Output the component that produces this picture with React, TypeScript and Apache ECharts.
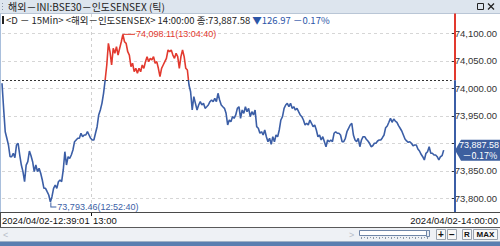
import React, { useEffect, useRef } from "react";
import * as echarts from "echarts";

// Tick prices, 12:39:01 → 14:00:00 (equal spacing per tick)
const PRICES_A: number[] = [
  74009.1, 73963.6, 73921.1, 73909.1, 73896.9, 73875.6, 73875.6, 73881.8, 73873.8, 73896.9,
  73900.0, 73878.7, 73860.5, 73848.4, 73830.2, 73860.5, 73866.5, 73886.0, 73877.5, 73866.5,
  73848.4, 73860.5, 73848.4, 73854.5, 73845.5, 73833.3, 73818.2, 73818.2, 73812.0, 73806.0,
  73793.46, 73802.9, 73818.2, 73824.2, 73818.2, 73830.2, 73833.3, 73830.2, 73851.5, 73884.7,
  73860.5, 73875.6, 73872.7, 73878.7, 73887.8, 73902.9, 73906.0, 73909.1, 73909.1, 73918.2,
  73912.0, 73915.1, 73915.1, 73921.1, 73915.1, 73909.1, 73906.0, 73906.0, 73918.2, 73930.2,
  73951.5, 73960.5, 73972.7, 73990.9, 74015.1, 74042.4, 74081.8, 74066.5, 74042.4, 74072.7,
  74063.6, 74075.6, 74060.5, 74072.7, 74084.7, 74098.11, 74084.7, 74081.8, 74066.5, 74060.5,
  74039.3, 74045.5, 74030.2, 74036.4, 74027.3, 74036.4, 74030.2, 74042.4, 74036.4, 74048.4,
];
const PRICES_B: number[] = [
  74057.5, 74048.4, 74054.5, 74051.5, 74057.5, 74045.5, 74048.4, 74036.4, 74021.1, 74036.4,
  74042.4, 74048.4, 74054.5, 74069.6, 74066.5, 74069.6, 74060.5, 74054.5, 74063.6, 74057.5,
  74036.4, 74057.5, 74069.6, 74057.5, 74036.4, 74033.3, 74006.0, 73993.8, 73960.5, 73984.7,
  73972.7, 73960.5, 73969.6, 73975.6, 73969.6, 73972.7, 73963.6, 73966.5, 73969.6, 73975.6,
  73978.7, 73975.6, 73981.8, 73975.6, 73990.9, 73978.7, 73969.6, 73966.5, 73963.6, 73954.5,
  73933.3, 73942.4, 73939.3, 73948.4, 73945.5, 73951.5, 73963.6, 73966.5, 73945.5, 73960.5,
  73954.5, 73966.5, 73957.5, 73963.6, 73948.4, 73957.5, 73951.5, 73960.5, 73930.2, 73927.3,
  73918.2, 73921.1, 73915.1, 73924.2, 73912.0, 73902.9, 73909.1, 73898.2, 73912.0, 73902.9,
  73915.1, 73912.0, 73924.2, 73942.4, 73948.4, 73963.6, 73969.6, 73972.7, 73966.5, 73972.7,
];
const PRICES_C: number[] = [
  73963.6, 73966.5, 73960.5, 73963.6, 73957.5, 73951.5, 73948.4, 73942.4, 73933.3, 73936.4,
  73933.3, 73942.4, 73936.4, 73930.2, 73933.3, 73924.2, 73912.0, 73915.1, 73906.0, 73912.0,
  73902.9, 73893.8, 73906.0, 73902.9, 73906.0, 73902.9, 73918.2, 73921.1, 73918.2, 73918.2,
  73915.1, 73902.9, 73902.9, 73909.1, 73921.1, 73927.3, 73933.3, 73936.4, 73915.1, 73906.0,
  73902.9, 73909.1, 73893.8, 73906.0, 73912.0, 73912.0, 73907.3, 73904.2, 73900.0, 73893.8,
  73895.6, 73900.0, 73900.0, 73904.2, 73906.0, 73906.0, 73910.2, 73915.1, 73928.4, 73931.5,
  73938.2, 73945.5, 73938.2, 73944.2, 73940.5, 73938.2, 73932.0, 73927.3, 73922.4, 73915.1,
  73907.8, 73904.2, 73901.8, 73902.9, 73900.0, 73895.6, 73896.9, 73896.9, 73889.6, 73886.0,
  73880.0, 73875.6, 73869.6, 73881.8, 73884.7, 73893.8, 73881.8, 73881.8, 73878.7, 73878.7,
  73875.6, 73869.6, 73875.6, 73877.5, 73887.58,
];
const PRICES: number[] = [...PRICES_A, ...PRICES_B, ...PRICES_C];

const LAST = 73887.58;
const CHANGE = -126.97;
const CHANGE_PCT = -0.17;
const PREV_CLOSE = LAST - CHANGE; // 74014.55

const Y_MIN = 73750;
const Y_MAX = 74150;
const Y_INTERVAL = 50;

const MAX_TIME = "13:04:40";
const MIN_TIME = "12:52:40";
const START_LABEL = "2024/04/02-12:39:01";
const END_LABEL = "2024/04/02-14:00:00";
const HOUR_LABEL = "13:00";
const HOUR_INDEX = 55;
const PAD_SLOTS = 5;

const TITLE = "해외－INI:BSE30－인도SENSEX (틱)";
const LEGEND_MAIN = "<D － 15Min> <해외－인도SENSEX> 14:00:00 종:";

const RED = "#e2392e";
const BLUE = "#3b5ea6";
const CJK = '"Noto Sans CJK KR", "Noto Sans", sans-serif';
const LAT = '"Liberation Sans", Arial, sans-serif';

const fmt = (v: number) =>
  v.toLocaleString("en-US", { minimumFractionDigits: 2, maximumFractionDigits: 2 });

export default function App() {
  const ref = useRef<HTMLDivElement>(null);
  useEffect(() => {
    if (!ref.current) return;
    const chart = echarts.init(ref.current, undefined, { renderer: "svg" });
    const categories = Array.from({ length: PRICES.length + PAD_SLOTS }, (_, i) => String(i));
    chart.setOption({
      animation: false,
      backgroundColor: "#ffffff",
      grid: { left: 2, right: 45, top: 5.8, bottom: 20.2 },
      xAxis: {
        type: "category",
        data: categories,
        boundaryGap: false,
        axisLine: { show: false },
        axisTick: { show: false },
        axisLabel: { show: false },
        splitLine: { show: false },
      },
      yAxis: {
        type: "value",
        position: "right",
        min: Y_MIN,
        max: Y_MAX,
        interval: Y_INTERVAL,
        axisLine: { show: false },
        axisTick: { show: true, length: 3, lineStyle: { color: "#333" } },
        axisLabel: {
          margin: 3,
          color: "#333",
          fontFamily: LAT,
          fontSize: 9.5,
          showMinLabel: false,
          showMaxLabel: false,
          // the tick hidden under the current-price box is not labelled
          formatter: (v: number) => (Math.abs(v - LAST) < 20 ? "" : fmt(v)),
        },
        splitLine: { show: true, lineStyle: { color: "#d6d6d6", type: [3, 3], width: 1 } },
      },
      visualMap: {
        show: false,
        type: "piecewise",
        dimension: 1,
        seriesIndex: 0,
        pieces: [
          { gt: PREV_CLOSE, lte: Y_MAX, color: RED },
          { gte: Y_MIN, lte: PREV_CLOSE, color: BLUE },
        ],
      },
      series: [
        {
          type: "line",
          data: PRICES,
          showSymbol: false,
          symbol: "none",
          lineStyle: { width: 1.6 },
          z: 3,
          markLine: {
            silent: true,
            symbol: "none",
            label: { show: false },
            lineStyle: { color: "#333", type: [2, 2], width: 1 },
            data: [{ yAxis: PREV_CLOSE }],
          },
          markPoint: {
            silent: true,
            data: [
              {
                type: "max",
                symbol: "path://M0,0H12V1H0Z",
                symbolSize: [12, 1],
                symbolOffset: [6, 0],
                itemStyle: { color: RED },
                label: {
                  show: true,
                  position: "right",
                  distance: 1,
                  color: RED,
                  fontFamily: LAT,
                  fontSize: 9,
                  formatter: (p: any) => `${fmt(p.value)}(${MAX_TIME})`,
                },
              },
              {
                type: "min",
                symbol: "path://M0,0H1V4H6V5H0Z",
                symbolSize: [6, 5],
                symbolOffset: [3, 3],
                itemStyle: { color: BLUE },
                label: {
                  show: true,
                  position: "right",
                  distance: 1,
                  offset: [0, 2],
                  color: BLUE,
                  fontFamily: LAT,
                  fontSize: 9,
                  formatter: (p: any) => `${fmt(p.value)}(${MIN_TIME})`,
                },
              },
            ],
          },
        },
      ],
    });

    const refY = chart.convertToPixel({ yAxisIndex: 0 }, PREV_CLOSE) as number;
    const lastY = chart.convertToPixel({ yAxisIndex: 0 }, LAST) as number;
    const hourX = chart.convertToPixel({ xAxisIndex: 0 }, HOUR_INDEX) as number;
    const axisX = 455;

    const txt = (x: number, y: number, text: string, opts: any = {}) => ({
      type: "text",
      x,
      y,
      z: 110,
      silent: true,
      style: {
        text,
        fill: opts.fill || "#222",
        font: opts.font || `9.5px ${LAT}`,
        align: opts.align || "left",
        verticalAlign: "middle",
        textAlign: opts.align || "left",
        textVerticalAlign: "middle",
      },
    });
    const rect = (x: number, y: number, w: number, h: number, fill: string, stroke?: string, z = 100) => ({
      type: "rect",
      z,
      silent: true,
      shape: { x, y, width: w, height: h },
      style: { fill, stroke: stroke || null, lineWidth: stroke ? 1 : 0 },
    });
    const line = (x1: number, y1: number, x2: number, y2: number, stroke: string, w = 1, z = 105, dash?: number[]) => ({
      type: "line",
      z,
      silent: true,
      shape: { x1, y1, x2, y2 },
      style: { stroke, lineWidth: w, lineDash: dash || null },
    });

    const rulerTicks: any[] = [];
    for (let x = 361; x <= 429; x += 3) {
      rulerTicks.push(line(x + 0.5, 237, x + 0.5, x % 2 ? 239 : 238, "#8a97a8", 1, 106));
    }

    const hx = Math.round(hourX) + 0.5;

    chart.setOption({
      graphic: [
        // vertical grid line at 13:00
        line(hx, 14, hx, 212, "#d0d0d0", 1, 1, [3, 3]),
        // title bar
        rect(0, 0, 500, 13, "#dde5ee"),
        line(0, 13.5, 500, 13.5, "#b9c6d6"),
        rect(2, 3, 1, 1, "#8894a4", undefined, 106),
        rect(2, 6, 1, 1, "#8894a4", undefined, 106),
        rect(2, 9, 1, 1, "#8894a4", undefined, 106),
        txt(8, 6.5, TITLE, { font: `10px ${CJK}`, fill: "#1c1c1c" }),
        rect(477.5, 3.5, 6, 6, "none", "#222", 106),
        line(488, 3.5, 494, 9.5, "#222", 1.3),
        line(494, 3.5, 488, 9.5, "#222", 1.3),
        // left border
        line(0.5, 14, 0.5, 212, "#a9bfdc"),
        // legend
        rect(2, 16, 2, 8, "#222", undefined, 106),
        {
          type: "text",
          x: 6,
          y: 20,
          z: 110,
          silent: true,
          style: {
            text: `{a|${LEGEND_MAIN}${fmt(LAST)}} {b|▼${fmt(Math.abs(CHANGE))} －${Math.abs(CHANGE_PCT).toFixed(2)}%}`,
            font: `9.5px ${CJK}`,
            verticalAlign: "middle",
            textVerticalAlign: "middle",
            rich: {
              a: { fill: "#222", color: "#222", font: `9.5px ${CJK}` },
              b: { fill: "#2c56a8", color: "#2c56a8", font: `9.5px ${CJK}` },
            },
          },
        },
        // y axis line (red above previous close, blue below)
        line(axisX, 13.5, axisX, refY, RED, 2),
        line(axisX, refY, axisX, 212, BLUE, 2),
        // current price box
        {
          type: "polygon",
          z: 108,
          silent: true,
          shape: {
            points: [
              [axisX, lastY],
              [axisX + 6, lastY - 10.5],
              [500, lastY - 10.5],
              [500, lastY + 10.5],
              [axisX + 6, lastY + 10.5],
            ],
          },
          style: { fill: "#3d5f9f" },
        },
        txt(479, lastY - 5.5, fmt(LAST), { fill: "#ffffff", align: "center", font: `9px ${LAT}` }),
        txt(480, lastY + 5.5, `－${Math.abs(CHANGE_PCT).toFixed(2)}%`, {
          fill: "#ffffff",
          align: "center",
          font: `9px ${CJK}`,
        }),
        // bottom date strip
        rect(0, 212, 500, 15, "#ffffff"),
        line(0, 212.5, 500, 212.5, "#4a4a4a"),
        line(0, 227.5, 500, 227.5, "#5a5a5a"),
        line(0.5, 212, 0.5, 227, "#4a4a4a"),
        txt(2, 220, START_LABEL, { font: `9.5px ${LAT}`, fill: "#111" }),
        line(hx, 213, hx, 216, "#111"),
        txt(hx + 1.5, 220, HOUR_LABEL, { font: `9.5px ${LAT}`, fill: "#111" }),
        txt(498, 220, END_LABEL, { font: `9.5px ${LAT}`, fill: "#111", align: "right" }),
        // scroll strip
        rect(0, 228, 500, 14, "#eef1f5"),
        txt(3, 235, "<", { fill: "#b8bec8", font: `9px ${LAT}` }),
        txt(349, 235, ">", { fill: "#b8bec8", font: `9px ${LAT}` }),
        rect(359.5, 230.5, 70, 5, "#ffffff", "#6f86a8", 105),
        rect(426.5, 230.5, 3, 6, "#e8ecf2", "#6f86a8", 106),
        ...rulerTicks,
        rect(436.5, 229.5, 9, 10, "#f7f7f7", "#9aa3ae", 105),
        txt(441, 234.8, "+", { font: `bold 10px ${LAT}`, align: "center", fill: "#111" }),
        rect(447.5, 229.5, 9, 10, "#f7f7f7", "#9aa3ae", 105),
        txt(452, 234.5, "−", { font: `bold 10px ${LAT}`, align: "center", fill: "#111" }),
        rect(462.5, 229.5, 9, 10, "#f7f7f7", "#9aa3ae", 105),
        txt(467, 234.8, "R", { font: `bold 8px ${LAT}`, align: "center", fill: "#111" }),
        rect(473.5, 229.5, 24, 10, "#f7f7f7", "#9aa3ae", 105),
        txt(485.5, 234.8, "MAX", { font: `bold 8px ${LAT}`, align: "center", fill: "#111" }),
        // bottom frame stripe
        line(0, 241.5, 500, 241.5, "#9fb0c6"),
        rect(0, 242, 500, 4, "#5a7eb0"),
      ],
    });

    return () => chart.dispose();
  }, []);

  return (
    <div
      ref={ref}
      style={{ position: "fixed", left: 0, top: 0, width: 500, height: 246 }}
    />
  );
}
